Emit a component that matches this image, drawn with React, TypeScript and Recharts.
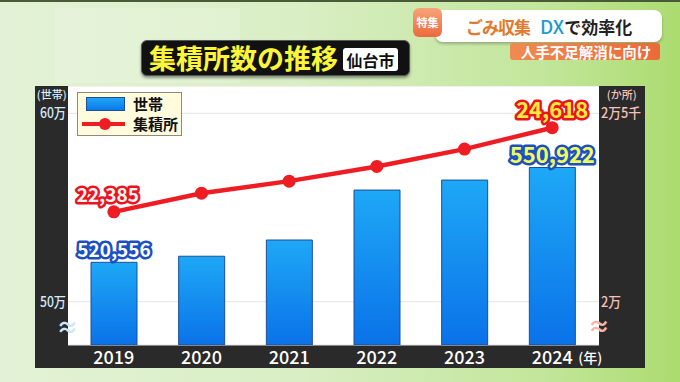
import {
  ComposedChart,
  Bar,
  Line,
  XAxis,
  YAxis,
  CartesianGrid,
  Legend,
  LabelList,
} from "recharts";

const years = ["2019", "2020", "2021", "2022", "2023", "2024"];
// 世帯数 (only first and last are printed on the graphic)
const households = [520556, 522500, 527700, 543700, 546900, 550922];
// ごみ集積所数
const collectionSites = [22385, 22880, 23200, 23590, 24050, 24618];

const householdTicks = [500000, 600000];
const siteTicks = [20000, 25000];

// the broadcast graphic draws the bars on their own stretched scale
const householdAxisDomain = [477000, 614500];
const householdBarDomain = [494070, 577030];
const siteDomain = [18851, 25725];

const data = years.map((year, i) => ({
  year,
  households: households[i],
  sites: collectionSites[i],
}));

const FONT = '"Noto Sans CJK JP", "Noto Sans", sans-serif';
const LAST = years.length - 1;

function toMan(v: number) {
  const man = Math.floor(v / 10000);
  const sen = Math.round((v % 10000) / 1000);
  return `${man}万${sen ? `${sen}千` : ""}`;
}

function HouseholdTick({ y, payload }: any) {
  return (
    <text
      x={31}
      y={y}
      dy={5}
      textAnchor="end"
      fill="#d4ebfb"
      fontSize={14}
      fontFamily={FONT}
      fontWeight={500}
      textLength={26}
      lengthAdjust="spacingAndGlyphs"
    >
      {toMan(payload.value)}
    </text>
  );
}

function SiteTick({ y, payload }: any) {
  const label = toMan(payload.value);
  return (
    <text
      x={566}
      y={y}
      dy={5}
      textAnchor="start"
      fill="#f7c0b8"
      fontSize={14}
      fontFamily={FONT}
      fontWeight={500}
      textLength={label.length > 2 ? 40 : 20}
      lengthAdjust="spacingAndGlyphs"
    >
      {label}
    </text>
  );
}

function YearTick({ x, y, payload, index }: any) {
  return (
    <g>
      <text x={x} y={y + 19} textAnchor="middle" fill="#fff" fontSize={18} fontFamily={FONT} fontWeight={500}>
        {payload.value}
      </text>
      {index === LAST && (
        <text x={x + 26} y={y + 18} fill="#fff" fontSize={14} fontFamily={FONT} fontWeight={500}>
          (年)
        </text>
      )}
    </g>
  );
}

function BarValueLabel({ x, y, width, index, value }: any) {
  if (index !== 0 && index !== LAST) return null;
  const last = index === LAST;
  return (
    <text
      x={x + width / 2}
      y={y - 5}
      textAnchor="middle"
      fontFamily={FONT}
      fontWeight={700}
      fontSize={last ? 22 : 19}
      fill={last ? "#effd58" : "#ffffff"}
      stroke="#1d4fc4"
      strokeWidth={5}
      strokeLinejoin="round"
      paintOrder="stroke"
    >
      {Number(value).toLocaleString("en-US")}
    </text>
  );
}

function SiteValueLabel({ x, y, index, value }: any) {
  if (index !== 0 && index !== LAST) return null;
  const last = index === LAST;
  return (
    <text
      x={x + (last ? 0 : -6)}
      y={y - 10}
      textAnchor="middle"
      fontFamily={FONT}
      fontWeight={700}
      fontSize={last ? 22 : 19}
      fill={last ? "#ffe93c" : "#fff3f3"}
      stroke="#e8141e"
      strokeWidth={5}
      strokeLinejoin="round"
      paintOrder="stroke"
    >
      {Number(value).toLocaleString("en-US")}
    </text>
  );
}

function LegendBox() {
  return (
    <div
      style={{
        width: 105,
        height: 44,
        boxSizing: "border-box",
        background: "#fffbdc",
        border: "1.5px solid #8c8a78",
        fontFamily: FONT,
        position: "relative",
        color: "#111",
      }}
    >
      <div
        style={{
          position: "absolute",
          left: 8,
          top: 4,
          width: 39,
          height: 14,
          boxSizing: "border-box",
          background: "linear-gradient(#1fa6f4, #0b78ea)",
          border: "1px solid #1b4e9a",
        }}
      />
      <span style={{ position: "absolute", left: 55, top: 3, fontSize: 15, fontWeight: 700, lineHeight: "16px" }}>
        世帯
      </span>
      <div style={{ position: "absolute", left: 4, top: 29, width: 43, height: 4, background: "#ee1d23" }} />
      <div
        style={{
          position: "absolute",
          left: 21,
          top: 25,
          width: 12,
          height: 12,
          borderRadius: 6,
          background: "#ee1d23",
        }}
      />
      <span style={{ position: "absolute", left: 55, top: 23, fontSize: 15, fontWeight: 700, lineHeight: "16px" }}>
        集積所
      </span>
    </div>
  );
}

const centered = (left: number, top: number): React.CSSProperties => ({
  position: "absolute",
  left,
  top,
  transform: "translate(-50%, -50%)",
  lineHeight: 1,
  whiteSpace: "nowrap",
  fontFamily: FONT,
});

export default function App() {
  return (
    <div
      style={{
        position: "fixed",
        left: 0,
        top: 0,
        width: 680,
        height: 382,
        overflow: "hidden",
        background: "linear-gradient(90deg, #e3f2d6 0%, #d8eec3 45%, #c2e69a 80%, #acdb70 100%)",
        fontFamily: FONT,
      }}
    >
      <div style={{ position: "absolute", left: 0, top: 0, width: 680, height: 2, background: "#4a5a38" }} />
      <div style={{ position: "absolute", left: 55, top: 8, width: 185, height: 75, background: "rgba(255,255,255,0.18)" }} />

      {/* header */}
      <div
        style={{
          position: "absolute",
          left: 435,
          top: 10,
          width: 227,
          height: 32,
          borderRadius: 8,
          background: "#fff",
          boxShadow: "0 2px 3px rgba(0,0,0,0.25)",
        }}
      />
      <div
        style={{
          position: "absolute",
          left: 413,
          top: 8,
          width: 29,
          height: 29,
          borderRadius: 6,
          background: "linear-gradient(#f7a47a, #ec6a3c)",
        }}
      />
      <div style={{ ...centered(427.5, 22), color: "#fff", fontSize: 11, fontWeight: 700 }}>特集</div>
      <div style={{ position: "absolute", left: 466, top: 17, fontSize: 17, fontWeight: 700, lineHeight: "17px", whiteSpace: "nowrap" }}>
        <span style={{ color: "#e07a2e", letterSpacing: -1 }}>ごみ収集</span>
        <span style={{ color: "#1e9bd0", marginLeft: 10, fontWeight: 500, fontSize: 19 }}>DX</span>
        <span style={{ color: "#222" }}>で効率化</span>
      </div>
      <div
        style={{
          position: "absolute",
          left: 510,
          top: 43,
          width: 150,
          height: 17,
          borderRadius: 3,
          background: "linear-gradient(90deg, #f08a52, #ec6a3a)",
        }}
      />
      <div style={{ ...centered(586, 52), color: "#fff", fontSize: 14.5, fontWeight: 700 }}>人手不足解消に向け</div>

      {/* title */}
      <div
        style={{
          position: "absolute",
          left: 141,
          top: 40,
          width: 269,
          height: 36,
          boxSizing: "border-box",
          borderRadius: 6,
          background: "#111",
          border: "1px solid #555",
          boxShadow: "0 2px 3px rgba(0,0,0,0.4)",
        }}
      />
      <div style={{ position: "absolute", left: 149, top: 44, fontSize: 27, fontWeight: 700, color: "#fbf63a", lineHeight: "28px", whiteSpace: "nowrap" }}>
        集積所数の推移
      </div>
      <div
        style={{
          position: "absolute",
          left: 343,
          top: 48,
          width: 55,
          height: 23,
          borderRadius: 3,
          background: "#fff",
        }}
      />
      <div style={{ ...centered(370.5, 59.5), color: "#111", fontSize: 16, fontWeight: 700 }}>仙台市</div>

      {/* dark chart frame */}
      <div style={{ position: "absolute", left: 35, top: 86, width: 610, height: 282, background: "#2a2a2a" }} />

      <div style={{ position: "absolute", left: 35, top: 86 }}>
        <ComposedChart width={610} height={282} data={data} margin={{ top: 0, right: 0, bottom: 0, left: 0 }}>
          <defs>
            <linearGradient id="barFill" x1="0" y1="0" x2="0" y2="1">
              <stop offset="0%" stopColor="#1ea8f6" />
              <stop offset="100%" stopColor="#0a72e8" />
            </linearGradient>
          </defs>
          <CartesianGrid yAxisId="right" vertical={false} fill="#ffffff" stroke="#e4e4e4" />
          <XAxis
            dataKey="year"
            height={23}
            axisLine={false}
            tickLine={false}
            tickSize={0}
            tickMargin={0}
            padding={{ left: 2, right: 3 }}
            tick={<YearTick />}
            interval={0}
          />
          <YAxis
            yAxisId="left"
            width={33}
            type="number"
            domain={householdAxisDomain}
            ticks={householdTicks}
            allowDataOverflow
            axisLine={false}
            tickLine={false}
            tick={<HouseholdTick />}
          />
          <YAxis yAxisId="bars" hide type="number" domain={householdBarDomain} allowDataOverflow />
          <YAxis
            yAxisId="right"
            orientation="right"
            width={46}
            type="number"
            domain={siteDomain}
            ticks={siteTicks}
            allowDataOverflow
            axisLine={false}
            tickLine={false}
            tick={<SiteTick />}
          />
          <Legend
            layout="vertical"
            verticalAlign="middle"
            align="center"
            content={<LegendBox />}
            wrapperStyle={{ left: 42, top: 6, width: 105, height: 44 }}
          />
          <Bar
            yAxisId="bars"
            dataKey="households"
            name="世帯"
            barSize={46}
            fill="url(#barFill)"
            stroke="#1b4e9a"
            strokeWidth={1}
            isAnimationActive={false}
          >
            <LabelList dataKey="households" content={<BarValueLabel />} />
          </Bar>
          <Line
            yAxisId="right"
            dataKey="sites"
            name="集積所"
            stroke="#ee1d23"
            strokeWidth={4.5}
            dot={{ r: 6.5, fill: "#ee1d23", stroke: "#ee1d23", strokeWidth: 0 }}
            isAnimationActive={false}
          >
            <LabelList dataKey="sites" content={<SiteValueLabel />} />
          </Line>
        </ComposedChart>
      </div>

      {/* axis units and break marks */}
      <div style={{ ...centered(51.7, 94), color: "#d8ecfa", fontSize: 11, fontWeight: 500 }}>(世帯)</div>
      <div style={{ ...centered(621.7, 94), color: "#f5c6be", fontSize: 11, fontWeight: 500 }}>(か所)</div>
      <div style={{ ...centered(67.5, 325), color: "#cfe6f7", fontSize: 22, fontWeight: 700 }}>≈</div>
      <div style={{ ...centered(599, 324), color: "#f2b6ae", fontSize: 22, fontWeight: 700 }}>≈</div>
    </div>
  );
}
